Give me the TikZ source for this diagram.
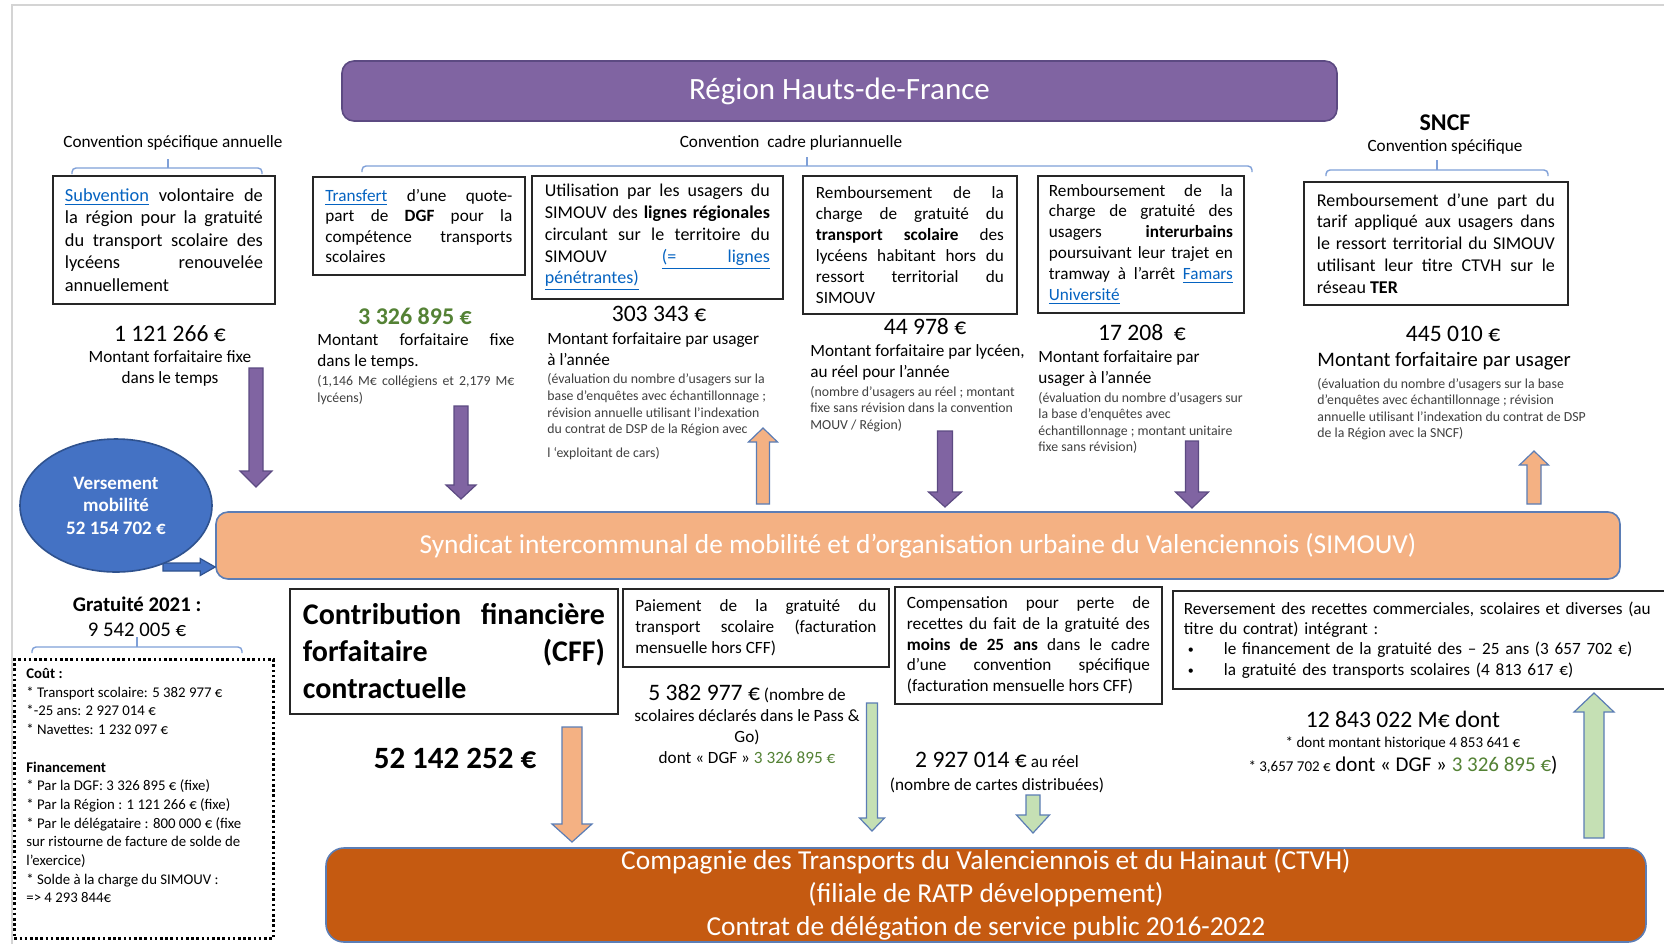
\documentclass[tikz,border=0pt]{standalone}
\usepackage{fontspec}
\setmainfont{Carlito}
\usetikzlibrary{calc,shapes.geometric}

\definecolor{regionpurple}{HTML}{8064A2}
\definecolor{purpleedge}{HTML}{5C4A82}
\definecolor{simouvorange}{HTML}{F4B183}
\definecolor{ctvhorange}{HTML}{C55A11}
\definecolor{shapeblue}{HTML}{4472C4}
\definecolor{shapeedge}{HTML}{2F528F}
\definecolor{baredge}{HTML}{5B7DB5}
\definecolor{arrowgreen}{HTML}{C5E0B4}
\definecolor{arrowedge}{HTML}{5B7DB5}
\definecolor{dgfgreen}{HTML}{548235}
\definecolor{linkblue}{HTML}{0563C1}
\definecolor{bracketblue}{HTML}{7FA0D8}
\definecolor{notegray}{HTML}{404040}
\definecolor{pagegray}{HTML}{D4D4D4}

\hyphenpenalty=10000
\exhyphenpenalty=10000

\newcommand{\lnk}[1]{\textcolor{linkblue}{\underline{#1}}}
\newcommand{\boxfont}{\fontsize{8.6}{10.45}\selectfont}
\newcommand{\capfont}{\fontsize{8.6}{10.5}\selectfont}
\newcommand{\notefont}{\fontsize{6.9}{8.3}\selectfont}
\newcommand{\amountfont}{\fontsize{11.8}{14}\selectfont}
\newcommand{\itembullet}{\hspace*{2pt}\makebox[18pt][l]{\raisebox{0.5pt}{\fontsize{6}{7}\selectfont •}}}
% block arrow: [style]{from}{to}{half shaft}{half head}{head length}
\newcommand{\blockarrow}[6][]{%
  \coordinate (ba-head) at ($(#3)!#6!(#2)$);
  \draw[#1] ($(#2)!#4!90:(#3)$) -- ($(ba-head)!#4!90:(#3)$)
    -- ($(ba-head)!#5!90:(#3)$) -- (#3)
    -- ($(ba-head)!#5!-90:(#3)$) -- ($(ba-head)!#4!-90:(#3)$)
    -- ($(#2)!#4!-90:(#3)$) -- cycle;}

\begin{document}
\begin{tikzpicture}[x=0.5pt, y=-0.5pt,
        framebox/.style={draw=black!85, line width=0.9pt, anchor=north west, align=justify, inner ysep=3pt, font=\boxfont},
        amount/.style={font=\amountfont, inner sep=0pt},
        caption/.style={font=\capfont, inner sep=0pt, align=left, anchor=north west},
        note/.style={font=\notefont, text=notegray, inner sep=0pt, align=left, anchor=north west},
        toplabel/.style={font=\fontsize{8.6}{10}\selectfont, inner sep=0pt},
        bar/.style={rounded corners=6pt, line width=0.8pt, text=white, inner sep=0pt, align=center},
        purplearrow/.style={fill=regionpurple, draw=purpleedge, line width=0.6pt},
        orangearrow/.style={fill=simouvorange, draw=arrowedge, line width=0.6pt},
        greenarrow/.style={fill=arrowgreen, draw=arrowedge, line width=0.6pt},
        bluearrow/.style={fill=shapeblue, draw=shapeedge, line width=0.6pt},
        bracket/.style={draw=bracketblue, line width=0.7pt, rounded corners=2pt},
        dotbox/.style={draw=black, line width=1.3pt, dash pattern=on 1.3pt off 1.3pt, inner sep=0pt},
        ]
    \useasboundingbox (0,0) rectangle (1664,944);
    \fill[white] (0,0) rectangle (1664,944);
    \draw[pagegray, line width=1pt] (12,944) -- (12,5) -- (1664,5);

    % bars
    \node[bar, fill=regionpurple, draw=purpleedge, minimum width=497.5pt, minimum height=30pt,
          font=\fontsize{15.5}{18}\selectfont] (region) at (839.5,91) {Région Hauts-de-France};
    \node[bar, fill=simouvorange, draw=baredge, minimum width=702pt, minimum height=33.5pt,
          font=\fontsize{13.7}{16}\selectfont] (simouv) at (918,545.5)
          {Syndicat intercommunal de mobilité et d’organisation urbaine du Valenciennois (SIMOUV)};
    \node[bar, fill=ctvhorange, draw=baredge, rounded corners=9pt, minimum width=660pt, minimum height=47pt,
          font=\fontsize{13.7}{16.5}\selectfont] (ctvh) at (986,895)
          {Compagnie des Transports du Valenciennois et du Hainaut (CTVH)\\(filiale de RATP développement)\\Contrat de délégation de service public 2016-2022};

    % conventions
    \node[toplabel] (conv-annual) at (173,143) {Convention spécifique annuelle};
    \node[toplabel] (conv-cadre) at (791,143) {Convention\ \ cadre pluriannuelle};
    \node[font=\bfseries\fontsize{12}{14}\selectfont, inner sep=0pt] (sncf) at (1445,123) {SNCF};
    \node[toplabel] (conv-sncf) at (1445,147) {Convention spécifique};
    \draw[bracket] (72,174) -- (72,168) -- (262,168) -- (262,174);
    \draw[bracket] (168,168) -- (168,159);
    \draw[bracket] (362,172) -- (362,166) -- (1252,166) -- (1252,172);
    \draw[bracket] (807,166) -- (807,157);
    \draw[bracket] (1326,176) -- (1326,170) -- (1548,170) -- (1548,176);
    \draw[bracket] (1437,170) -- (1437,160);

    % upper boxes
    \node[framebox, text width=99pt, inner xsep=6pt, minimum height=64pt, font=\fontsize{9.2}{11.3}\selectfont] (subv) at (52,175)
        {\lnk{Subvention} volontaire de\linebreak la région pour la gratuité\linebreak du transport scolaire des\linebreak lycéens renouvelée\linebreak annuellement};
    \node[framebox, text width=93.5pt, inner xsep=6.25pt, minimum height=49pt, font=\fontsize{8.6}{10.3}\selectfont] (transfer) at (312,176)
        {\lnk{Transfert} d’une quote-\linebreak part de \textbf{DGF} pour la\linebreak compétence transports\linebreak scolaires};
    \node[framebox, text width=112.5pt, inner xsep=6.5pt, minimum height=61.5pt, font=\fontsize{9}{10.9}\selectfont] (lines) at (531,175)
        {Utilisation par les usagers du\linebreak SIMOUV des \textbf{lignes régionales}\linebreak circulant sur le territoire du\linebreak SIMOUV\hfill\lnk{\makebox[54pt][s]{(=\hfill lignes}}\linebreak \lnk{pénétrantes)}};
    \node[framebox, text width=94pt, inner xsep=6.5pt, minimum height=69pt] (lycee) at (802,175)
        {Remboursement de la\linebreak charge de gratuité du\linebreak \textbf{transport scolaire} des\linebreak lycéens habitant hors du\linebreak ressort territorial du\linebreak SIMOUV};
    \node[framebox, text width=92pt, inner xsep=5.5pt, minimum height=68.5pt] (inter) at (1037,175)
        {Remboursement de la\linebreak charge de gratuité des\linebreak usagers \textbf{interurbains}\linebreak poursuivant leur trajet en\linebreak tramway à l’arrêt \lnk{Famars}\linebreak \lnk{Université}};
    \node[framebox, text width=119pt, inner xsep=6.5pt, minimum height=61.5pt, font=\fontsize{9}{10.9}\selectfont] (ter) at (1303,181)
        {Remboursement d’une part du\linebreak tarif appliqué aux usagers dans\linebreak le ressort territorial du SIMOUV\linebreak utilisant leur titre CTVH sur le\linebreak réseau \textbf{TER}};

    % amounts above the SIMOUV
    \node[amount] (amt-subv) at (170,334) {1 121 266 €};
    \node[font=\capfont, inner sep=0pt, align=center] (cap-subv) at (170,368.5) {Montant forfaitaire fixe\\dans le temps};
    \node[amount, font=\bfseries\fontsize{12}{14}\selectfont, text=dgfgreen] (amt-transfer) at (415,316) {3 326 895 €};
    \node[caption, align=justify, text width=98.5pt] (cap-transfer) at (317,333) {Montant forfaitaire fixe\linebreak dans le temps.};
    \node[note, align=justify, text width=98.5pt] (note-transfer) at (317,375) {(1,146 M€ collégiens et 2,179 M€\linebreak lycéens)};
    \node[amount] (amt-lines) at (659,314) {303 343 €};
    \node[caption] (cap-lines) at (547,332) {Montant forfaitaire par usager\\à l’année};
    \node[note] (note-lines) at (547,373.5) {(évaluation du nombre d’usagers sur la\\base d’enquêtes avec échantillonnage ;\\révision annuelle utilisant l’indexation\\du contrat de DSP de la Région avec\\[3.3pt]l ‘exploitant de cars)};
    \node[amount] (amt-lycee) at (925,327) {44 978 €};
    \node[caption] (cap-lycee) at (810,344) {Montant forfaitaire par lycéen,\\au réel pour l’année};
    \node[note] (note-lycee) at (810,385.5) {(nombre d’usagers au réel ; montant\\fixe sans révision dans la convention\\MOUV / Région)};
    \node[amount] (amt-inter) at (1142,333) {17 208\ \ €};
    \node[caption] (cap-inter) at (1038,350) {Montant forfaitaire par\\usager à l’année};
    \node[note] (note-inter) at (1038,391.5) {(évaluation du nombre d’usagers sur\\la base d’enquêtes avec\\échantillonnage ; montant unitaire\\fixe sans révision)};
    \node[amount] (amt-ter) at (1453,334) {445 010 €};
    \node[caption, font=\fontsize{10.3}{12}\selectfont] (cap-ter) at (1317,351.5) {Montant forfaitaire par usager};
    \node[note] (note-ter) at (1317,377.5) {(évaluation du nombre d’usagers sur la base\\d’enquêtes avec échantillonnage ; révision\\annuelle utilisant l’indexation du contrat de DSP\\de la Région avec la SNCF)};

    % versement mobilite
    \coordinate (vm-out) at (163,567);
    \blockarrow[bluearrow]{vm-out}{vm-out -| simouv.west}{2pt}{4.25pt}{7.5pt}
    \node[ellipse, fill=shapeblue, draw=shapeedge, line width=0.8pt, minimum width=96pt, minimum height=66.5pt, inner sep=0pt,
          text=white, font=\bfseries\fontsize{9.5}{11.25}\selectfont, align=center] (vm) at (116,505.5) {Versement\\mobilité\\52 154 702 €};

    % gratuite 2021
    \node[font=\fontsize{10.4}{12.5}\selectfont, inner sep=0pt, align=center] (free) at (137,616.5) {\textbf{Gratuité 2021 :}\\9 542 005 €};
    \draw[bracket] (32,653) -- (32,647) -- (242,647) -- (242,653);
    \draw[bracket] (137,647) -- (137,637);
    \node[dotbox, minimum width=129.5pt, minimum height=139.5pt, anchor=north west] (cost) at (13,658) {};
    \node[font=\fontsize{7.4}{9.35}\selectfont, inner sep=0pt, align=left, anchor=north west] (cost-text) at ($(cost.north west)+(13,10)$)
        {\textbf{Coût :}\\* Transport scolaire: 5 382 977 €\\*-25 ans: 2 927 014 €\\* Navettes: 1 232 097 €\\\mbox{}\\\textbf{Financement}\\* Par la DGF: 3 326 895 € (fixe)\\* Par la Région : 1 121 266 € (fixe)\\* Par le délégataire : 800 000 € (fixe\\sur ristourne de facture de solde de\\l’exercice)\\* Solde à la charge du SIMOUV :\\=> 4 293 844€};

    % lower boxes
    \node[framebox, text width=151pt, inner xsep=6.5pt, minimum height=62.5pt, font=\bfseries\fontsize{15}{18.5}\selectfont] (cff) at (289,588)
        {Contribution financière\linebreak forfaitaire (CFF)\linebreak contractuelle};
    \node[framebox, text width=120.5pt, inner xsep=6.25pt, minimum height=39pt] (school) at (622,588)
        {Paiement de la gratuité du\linebreak transport scolaire (facturation\linebreak mensuelle hors CFF)};
    \node[framebox, text width=121.5pt, inner xsep=6pt, minimum height=58.5pt, font=\fontsize{8.6}{10.35}\selectfont] (young) at (894,586)
        {Compensation pour perte de\linebreak recettes du fait de la gratuité des\linebreak \textbf{moins de 25 ans} dans le cadre\linebreak d’une convention spécifique\linebreak (facturation mensuelle hors CFF)};
    \node[framebox, align=left, text width=243pt, inner xsep=5.5pt, minimum height=49pt, font=\fontsize{8.6}{10.2}\selectfont] (refund) at (1172,590)
        {Reversement des recettes commerciales, scolaires et diverses (au\\titre du contrat) intégrant :\\\itembullet le financement de la gratuité des – 25 ans (3 657 702 €)\\\itembullet la gratuité des transports scolaires (4 813 617 €)};

    % amounts below the SIMOUV
    \node[amount, font=\bfseries\fontsize{15.5}{18}\selectfont] (amt-cff) at (455,758) {52 142 252 €};
    \node[font=\capfont, inner sep=0pt, align=center, anchor=north] (cap-school) at (747,684)
        {{\amountfont 5 382 977 €} (nombre de\\scolaires déclarés dans le Pass \&\\Go)\\dont « DGF » \textcolor{dgfgreen}{3 326 895 €}};
    \node[font=\capfont, inner sep=0pt] (amt-young) at (997,760) {{\amountfont 2 927 014 €} au réel};
    \node[font=\capfont, inner sep=0pt] (cap-young) at (997,785) {(nombre de cartes distribuées)};
    \node[amount] (amt-refund) at (1403,719) {12 843 022 M€ dont};
    \node[font=\fontsize{7.5}{9}\selectfont, inner sep=0pt] (note-refund) at (1403,743) {* dont montant historique 4 853 641 €};
    \node[font=\fontsize{10.5}{12}\selectfont, inner sep=0pt] (cap-refund) at (1403,765)
        {{\fontsize{7.5}{9}\selectfont * 3,657 702 €} dont « DGF » \textcolor{dgfgreen}{3 326 895 €})};

    % flows
    \coordinate (subv-s) at (256,368);   \coordinate (subv-e) at (256,487);
    \coordinate (transfer-s) at (461,406); \coordinate (transfer-e) at (461,499);
    \coordinate (lines-s) at (763,504);  \coordinate (lines-e) at (763,428);
    \coordinate (lycee-s) at (945,431);  \coordinate (lycee-e) at (945,507);
    \coordinate (inter-s) at (1192,441); \coordinate (inter-e) at (1192,508);
    \coordinate (ter-s) at (1534,504);   \coordinate (ter-e) at (1534,451);
    \coordinate (cff-s) at (572,727);    \coordinate (cff-e) at (572,842);
    \coordinate (school-s) at (872,703); \coordinate (school-e) at (872,831);
    \coordinate (young-s) at (1033,795); \coordinate (young-e) at (1033,833);
    \coordinate (refund-s) at (1594,838); \coordinate (refund-e) at (1594,693);
    \blockarrow[purplearrow]{subv-s}{subv-e}{3.5pt}{8pt}{8pt}
    \blockarrow[purplearrow]{transfer-s}{transfer-e}{3.5pt}{7.5pt}{7pt}
    \blockarrow[orangearrow]{lines-s}{lines-e}{3.25pt}{7.25pt}{7pt}
    \blockarrow[purplearrow]{lycee-s}{lycee-e}{3.75pt}{8.25pt}{7.5pt}
    \blockarrow[purplearrow]{inter-s}{inter-e}{3.25pt}{8.25pt}{8pt}
    \blockarrow[orangearrow]{ter-s}{ter-e}{3.5pt}{7.25pt}{7pt}
    \blockarrow[orangearrow]{cff-s}{cff-e}{5pt}{10pt}{9pt}
    \blockarrow[greenarrow]{school-s}{school-e}{2.75pt}{6.25pt}{6.5pt}
    \blockarrow[greenarrow]{young-s}{young-e}{3.5pt}{8.25pt}{9pt}
    \blockarrow[greenarrow]{refund-s}{refund-e}{5pt}{10pt}{9.5pt}
\end{tikzpicture}
\end{document}
